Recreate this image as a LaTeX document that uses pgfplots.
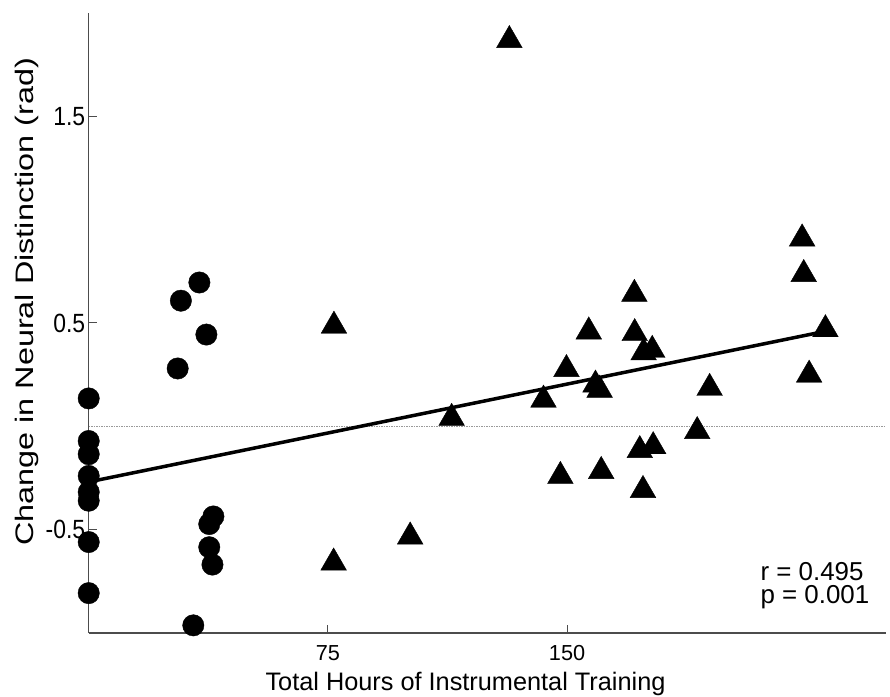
\documentclass[border=0pt]{standalone}
\usepackage{pgfplots}
\pgfplotsset{compat=1.18}
\usepackage{graphicx}
\usepackage{fontspec}
\setmainfont{Liberation Sans}
\begin{document}
\begin{tikzpicture}
\useasboundingbox (-88.7bp,-64bp) rectangle (801.3bp,633bp);
\begin{axis}[
 at={(0,0)}, anchor=south west,
 scale only axis, width=797.3bp, height=620bp,
 xmin=0,xmax=250,ymin=-1,ymax=2,
 axis x line*=bottom, axis y line*=left,
 axis line style={black!70, line width=1.1bp, -},
 xtick={75,150}, ytick={-0.5,0.5,1.5},
 yticklabels={\scalebox{1}[1.15]{-0.5},\scalebox{1}[1.15]{0.5},\scalebox{1}[1.15]{1.5}},
 tick align=inside, major tick length=8bp,
 tick style={black!70, line width=1bp},
 xticklabel style={font=\fontsize{21.8}{26}\selectfont, yshift=-9bp},
 yticklabel style={font=\fontsize{23}{26}\selectfont},
 /pgf/number format/assume math mode=true,
 xlabel={Total Hours of Instrumental Training},
 ylabel={\scalebox{1.28}[1]{Change in Neural Distinction (rad)}},
 label style={font=\fontsize{25.4}{30}\selectfont},
 xlabel style={at={(axis description cs:0.4726,-0.0815)}, anchor=center},
 ylabel style={at={(axis description cs:-0.0776,0.534)}, anchor=center},
 clip=false,
]
\addplot[gray!80, line width=0.7bp, dash pattern=on 1.5bp off 1bp] coordinates {(0,0) (250,0)};
\addplot[only marks, mark=*, mark size=10.7bp, black] coordinates {
(0,0.135) (0,-0.071) (0,-0.135) (0,-0.240) (0,-0.318) (0,-0.360) (0,-0.560) (0,-0.807)
(34.7,0.696) (28.9,0.608) (36.9,0.444) (27.9,0.280) (39.1,-0.436) (37.8,-0.473)
(37.8,-0.585) (38.8,-0.669) (32.8,-0.963)
};
\addplot[only marks, mark=triangle*, mark size=14.8bp, black,
  every mark/.append style={yshift=-3.7bp}] coordinates {
(131.9,1.886) (76.9,0.504) (76.8,-0.642) (100.8,-0.516) (113.8,0.058) (142.6,0.146)
(147.9,-0.223) (149.8,0.294) (223.7,0.926) (224.2,0.754) (231.0,0.487) (225.9,0.267)
(171.1,0.658) (156.8,0.476) (171.2,0.468) (174.0,0.375) (176.7,0.387) (158.9,0.219)
(160.2,0.194) (194.7,0.203) (190.8,-0.006) (172.8,-0.098) (177.0,-0.079) (160.7,-0.199)
(173.8,-0.291)
};
\addplot[black, line width=3.5bp] coordinates {(0,-0.269) (231.0,0.46)};
\node[anchor=base west, inner sep=0pt, font=\fontsize{26}{30}\selectfont] at (axis cs:210.6,-0.746) {r = 0.495};
\node[anchor=base west, inner sep=0pt, font=\fontsize{26}{30}\selectfont] at (axis cs:210.6,-0.859) {p = 0.001};
\end{axis}
\end{tikzpicture}
\end{document}
